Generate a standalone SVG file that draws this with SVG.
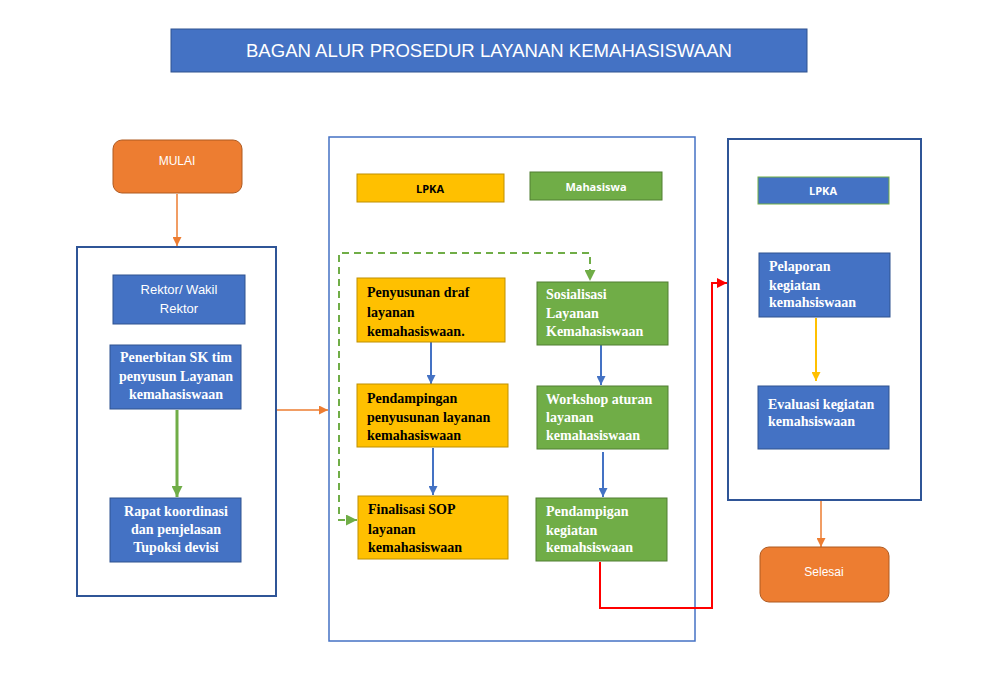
<svg xmlns="http://www.w3.org/2000/svg" width="985" height="688" viewBox="0 0 985 688">
<defs>
<style>
.bl{fill:#4472C4;stroke:#2F528F;stroke-width:1}
.yl{fill:#FFC000;stroke:#BF9000;stroke-width:1}
.gr{fill:#70AD47;stroke:#507E32;stroke-width:1}
.or{fill:#ED7D31;stroke:#AE5A21;stroke-width:1}
.cont{fill:#fff;stroke:#2F5597;stroke-width:2}
.cont2{fill:#fff;stroke:#4472C4;stroke-width:1.5}
.sans{font-family:"Liberation Sans",Arial,sans-serif}
.ser{font-family:"Liberation Serif","Times New Roman",serif;font-size:14px;font-weight:bold}
.w{fill:#fff}
.k{fill:#000}
.c{text-anchor:middle}
.hdr{font-family:"Open Sans","Liberation Sans",sans-serif;font-size:11px;font-weight:bold}
.ln{fill:none}
</style>
<marker id="aO" viewBox="0 0 10 10" refX="10" refY="5" markerWidth="9" markerHeight="9" markerUnits="userSpaceOnUse" orient="auto"><path d="M0,0 L10,5 L0,10 z" fill="#ED7D31"/></marker>
<marker id="aG" viewBox="0 0 10 10" refX="10" refY="5" markerWidth="11" markerHeight="11" markerUnits="userSpaceOnUse" orient="auto"><path d="M0,0 L10,5 L0,10 z" fill="#70AD47"/></marker>
<marker id="aB" viewBox="0 0 10 10" refX="10" refY="5" markerWidth="9" markerHeight="9" markerUnits="userSpaceOnUse" orient="auto"><path d="M0,0 L10,5 L0,10 z" fill="#4472C4"/></marker>
<marker id="aY" viewBox="0 0 10 10" refX="10" refY="5" markerWidth="9" markerHeight="9" markerUnits="userSpaceOnUse" orient="auto"><path d="M0,0 L10,5 L0,10 z" fill="#FFC000"/></marker>
<marker id="aR" viewBox="0 0 10 10" refX="10" refY="5" markerWidth="10" markerHeight="10" markerUnits="userSpaceOnUse" orient="auto"><path d="M0,0 L10,5 L0,10 z" fill="#FF0000"/></marker>
</defs>
<rect width="985" height="688" fill="#fff"/>

<g id="title">
<rect x="171" y="29" width="636" height="43" fill="#4472C4" stroke="#2F528F" stroke-width="1"/>
<text x="489" y="57" class="sans w c" font-size="18" textLength="486" lengthAdjust="spacingAndGlyphs">BAGAN ALUR PROSEDUR LAYANAN KEMAHASISWAAN</text>
</g>

<g id="containers">
<rect id="cont-left" x="77" y="247" width="199" height="349" class="cont"/>
<rect id="cont-mid" x="329" y="137" width="366" height="504" class="cont2"/>
<rect id="cont-right" x="728" y="139" width="193" height="361" class="cont"/>
</g>

<g id="connectors">
<path d="M177,194 V246" class="ln" stroke="#ED7D31" stroke-width="1.5" marker-end="url(#aO)"/>
<path d="M177,410 V497" class="ln" stroke="#70AD47" stroke-width="3" marker-end="url(#aG)"/>
<path d="M277,410 H328" class="ln" stroke="#ED7D31" stroke-width="1.5" marker-end="url(#aO)"/>
<path d="M431,342 V384" class="ln" stroke="#4472C4" stroke-width="2" marker-end="url(#aB)"/>
<path d="M433,448 V495" class="ln" stroke="#4472C4" stroke-width="2" marker-end="url(#aB)"/>
<path d="M601,345 V385" class="ln" stroke="#4472C4" stroke-width="2" marker-end="url(#aB)"/>
<path d="M603,452 V497" class="ln" stroke="#4472C4" stroke-width="2" marker-end="url(#aB)"/>
<path d="M357,520 H339 V253 H590 V281" class="ln" stroke="#70AD47" stroke-width="2" stroke-dasharray="7,5" marker-end="url(#aG)"/>
<path d="M340,520 H357" class="ln" stroke="none" marker-end="url(#aG)"/>
<path d="M600,562 V608 H712 V283 H727" class="ln" stroke="#FF0000" stroke-width="2" marker-end="url(#aR)"/>
<path d="M816,318 V381" class="ln" stroke="#FFC000" stroke-width="2" marker-end="url(#aY)"/>
<path d="M821,501 V547" class="ln" stroke="#ED7D31" stroke-width="1.5" marker-end="url(#aO)"/>
</g>

<g id="mulai">
<rect x="113" y="140" width="129" height="53" rx="9" class="or"/>
<text x="177" y="165" class="sans w c" font-size="12">MULAI</text>
</g>

<g id="rektor">
<rect x="113" y="275" width="132" height="49" class="bl"/>
<text class="sans w c" font-size="13"><tspan x="179" y="294">Rektor/ Wakil</tspan><tspan x="179" y="313">Rektor</tspan></text>
</g>

<g id="penerbitan">
<rect x="110" y="345" width="131" height="64" class="bl"/>
<text class="ser w c"><tspan x="176" y="362">Penerbitan SK tim</tspan><tspan x="176" y="381">penyusun Layanan</tspan><tspan x="176" y="399">kemahasiswaan</tspan></text>
</g>

<g id="rapat">
<rect x="110" y="498" width="131" height="64" class="bl"/>
<text class="ser w c"><tspan x="176" y="516">Rapat koordinasi</tspan><tspan x="176" y="534">dan penjelasan</tspan><tspan x="176" y="552">Tupoksi devisi</tspan></text>
</g>

<g id="hdr-lpka">
<rect x="357" y="174" width="147" height="28" class="yl"/>
<text x="430" y="193" class="hdr k c">LPKA</text>
</g>

<g id="hdr-mahasiswa">
<rect x="530" y="172" width="132" height="28" class="gr"/>
<text x="596" y="191" class="hdr w c">Mahasiswa</text>
</g>

<g id="penyusunan">
<rect x="357" y="278" width="148" height="64" class="yl"/>
<text class="ser k"><tspan x="367" y="297">Penyusunan draf</tspan><tspan x="367" y="317">layanan</tspan><tspan x="367" y="336">kemahasiswaan.</tspan></text>
</g>

<g id="pendampingan">
<rect x="357" y="384" width="151" height="63" class="yl"/>
<text class="ser k"><tspan x="367" y="403">Pendampingan</tspan><tspan x="367" y="422">penyusunan layanan</tspan><tspan x="367" y="440">kemahasiswaan</tspan></text>
</g>

<g id="finalisasi">
<rect x="358" y="496" width="150" height="63" class="yl"/>
<text class="ser k"><tspan x="368" y="514">Finalisasi SOP</tspan><tspan x="368" y="534">layanan</tspan><tspan x="368" y="552">kemahasiswaan</tspan></text>
</g>

<g id="sosialisasi">
<rect x="537" y="282" width="131" height="63" class="gr"/>
<text class="ser w"><tspan x="546" y="299">Sosialisasi</tspan><tspan x="546" y="318">Layanan</tspan><tspan x="546" y="336">Kemahasiswaan</tspan></text>
</g>

<g id="workshop">
<rect x="537" y="386" width="131" height="63" class="gr"/>
<text class="ser w"><tspan x="546" y="404">Workshop aturan</tspan><tspan x="546" y="422">layanan</tspan><tspan x="546" y="440">kemahasiswaan</tspan></text>
</g>

<g id="pendampigan">
<rect x="536" y="498" width="131" height="63" class="gr"/>
<text class="ser w"><tspan x="546" y="516">Pendampigan</tspan><tspan x="546" y="535">kegiatan</tspan><tspan x="546" y="552">kemahsiswaan</tspan></text>
</g>

<g id="hdr-lpka-right">
<rect x="758" y="177" width="131" height="27" fill="#4472C4" stroke="#70AD47" stroke-width="1"/>
<text x="823" y="195" class="hdr w c">LPKA</text>
</g>

<g id="pelaporan">
<rect x="759" y="253" width="131" height="64" class="bl"/>
<text class="ser w"><tspan x="769" y="271">Pelaporan</tspan><tspan x="769" y="290">kegiatan</tspan><tspan x="769" y="307">kemahsiswaan</tspan></text>
</g>

<g id="evaluasi">
<rect x="758" y="386" width="131" height="63" class="bl"/>
<text class="ser w"><tspan x="768" y="409">Evaluasi kegiatan</tspan><tspan x="768" y="426">kemahsiswaan</tspan></text>
</g>

<g id="selesai">
<rect x="760" y="547" width="129" height="55" rx="9" class="or"/>
<text x="824" y="576" class="sans w c" font-size="12">Selesai</text>
</g>
</svg>
